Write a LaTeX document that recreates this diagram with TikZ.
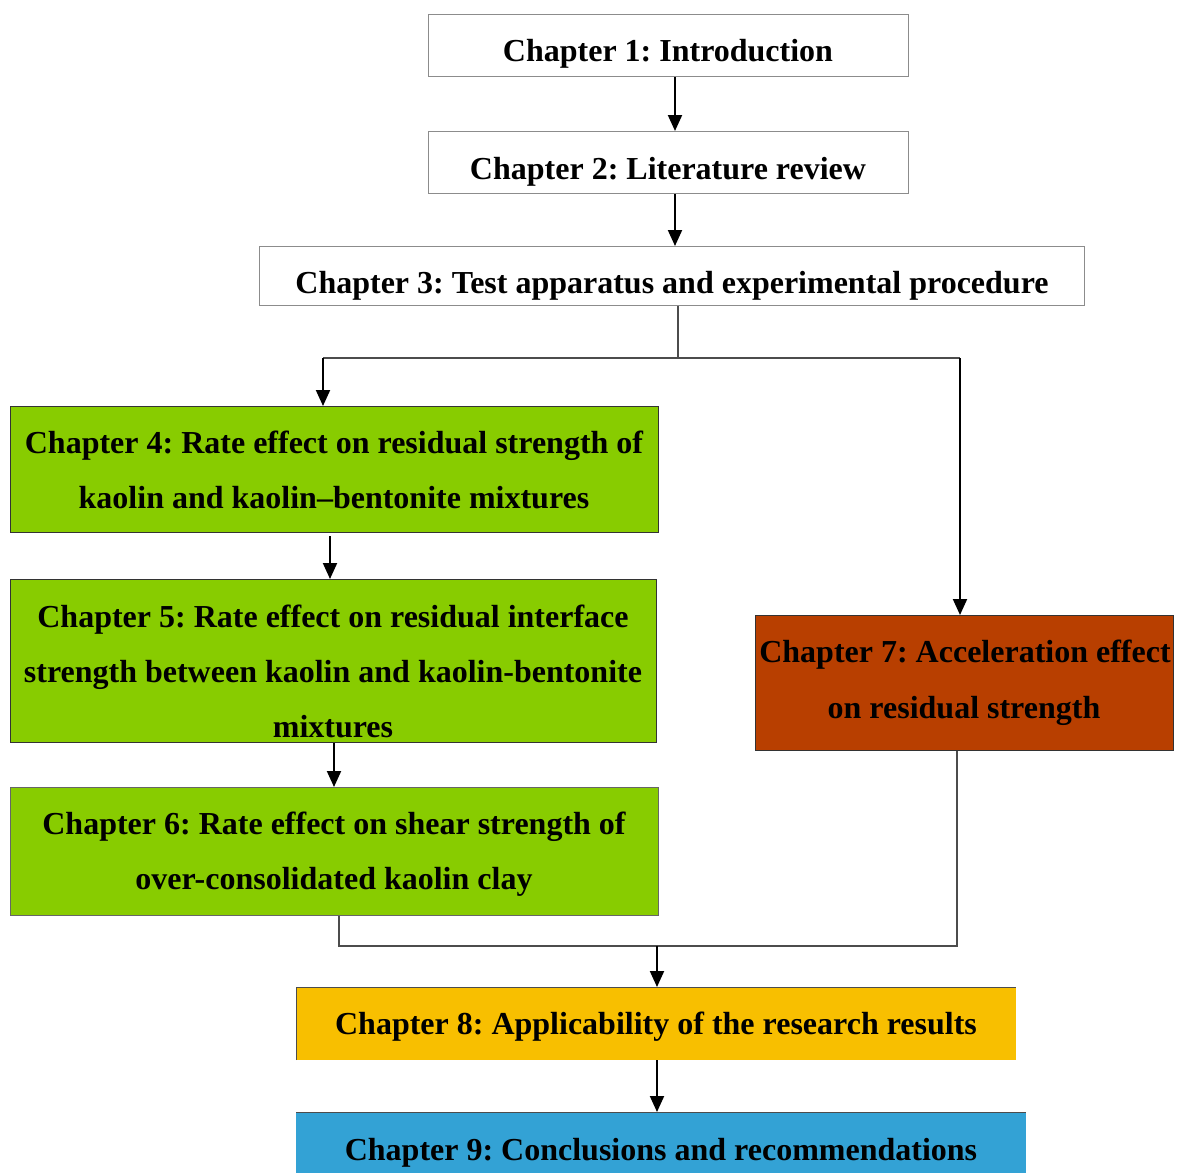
\documentclass[tikz,border=0pt]{standalone}
\usepackage{fontspec}
\setmainfont{Liberation Serif}
\usetikzlibrary{arrows.meta}
\definecolor{cgreen}{HTML}{88CC00}
\definecolor{cbrown}{HTML}{B83F00}
\definecolor{cyellow}{HTML}{F8BF00}
\definecolor{cblue}{HTML}{33A2D5}
\frenchspacing
\begin{document}
\begin{tikzpicture}[x=1pt,y=-1pt,
  box/.style={draw=#1, line width=1pt, inner sep=0pt, anchor=north west},
  lbl/.style={font=\bfseries\fontsize{32}{32}\selectfont, anchor=base, inner sep=0pt},
  arr/.style={line width=2pt, draw=black, -{Triangle[length=16pt,width=14pt]}},
  ln/.style={line width=1.5pt, draw=black!70}]
\useasboundingbox (0,0) rectangle (1180,1172);
\clip (0,0) rectangle (1180,1172);
% boxes
\node[box=black!45, minimum width=480pt, minimum height=62pt] (b1) at (428,14) {};
\node[box=black!45, minimum width=480pt, minimum height=62pt] (b2) at (428,131) {};
\node[box=black!45, minimum width=825pt, minimum height=59pt] (b3) at (259,246) {};
\node[box=black!80, fill=cgreen, minimum width=648pt, minimum height=126pt] (b4) at (10,406) {};
\node[box=black!80, fill=cgreen, minimum width=646pt, minimum height=163pt] (b5) at (10,579) {};
\node[box=black!60, fill=cgreen, minimum width=648pt, minimum height=128pt] (b6) at (10,787) {};
\node[box=black!80, fill=cbrown, minimum width=418pt, minimum height=135pt] (b7) at (755,615) {};
\node[box=cyellow, fill=cyellow, minimum width=719pt, minimum height=72pt] (b8) at (296,987) {};
\draw[black!70, line width=1pt] (b8.south west) -- (b8.north west) -- (b8.north east);
\node[box=cblue, fill=cblue, minimum width=729pt, minimum height=80pt] (b9) at (296,1112) {};
\draw[black!70, line width=1pt] (b9.west |- b9.north) -- (b9.north east);
% texts
\node[lbl] (t1) at (668,62) {Chapter 1: Introduction};
\node[lbl] (t2) at (668,179) {Chapter 2: Literature review};
\node[lbl] (t3) at (672,293) {Chapter 3: Test apparatus and experimental procedure};
\node[lbl] (t4a) at (334,453) {Chapter 4: Rate effect on residual strength of};
\node[lbl] (t4b) at (334,508) {kaolin and kaolin--bentonite mixtures};
\node[lbl] (t5a) at (333,627) {Chapter 5: Rate effect on residual interface};
\node[lbl] (t5b) at (333,682) {strength between kaolin and kaolin-bentonite};
\node[lbl] (t5c) at (333,737) {mixtures};
\node[lbl] (t6a) at (334,834) {Chapter 6: Rate effect on shear strength of};
\node[lbl] (t6b) at (334,889) {over-consolidated kaolin clay};
\node[lbl] (t7a) at (965,662) {Chapter 7: Acceleration effect};
\node[lbl] (t7b) at (964,718) {on residual strength};
\node[lbl] (t8) at (656,1034) {Chapter 8: Applicability of the research results};
\node[lbl] (t9) at (661,1160) {Chapter 9: Conclusions and recommendations};
% connectors
\coordinate (x1) at (675,0);
\draw[arr] (b1.south -| x1) -- (b2.north -| x1);
\draw[arr] (b2.south -| x1) -- (b3.north -| x1);
\coordinate (j) at (678,358);
\coordinate (jl) at (323,358);
\coordinate (jr) at (960,358);
\draw[ln] (b3.south -| j) -- (j);
\draw[ln] (jl) -- (jr);
\draw[arr] (jl) -- (b4.north -| jl);
\draw[arr] (jr) -- (b7.north -| jr);
\coordinate (x45) at (330,0);
\draw[arr] (b4.south -| x45) ++(0,3) -- (b5.north -| x45);
\coordinate (x56) at (334,0);
\draw[arr] (b5.south -| x56) -- (b6.north -| x56);
\coordinate (m6) at (339,946);
\coordinate (m7) at (957,946);
\coordinate (m) at (657,946);
\draw[ln] (b6.south -| m6) -- (m6) -- (m7) -- (b7.south -| m7);
\draw[arr] (m) -- (b8.north -| m);
\draw[arr] (b8.south -| m) -- (b9.north -| m);
\end{tikzpicture}
\end{document}
